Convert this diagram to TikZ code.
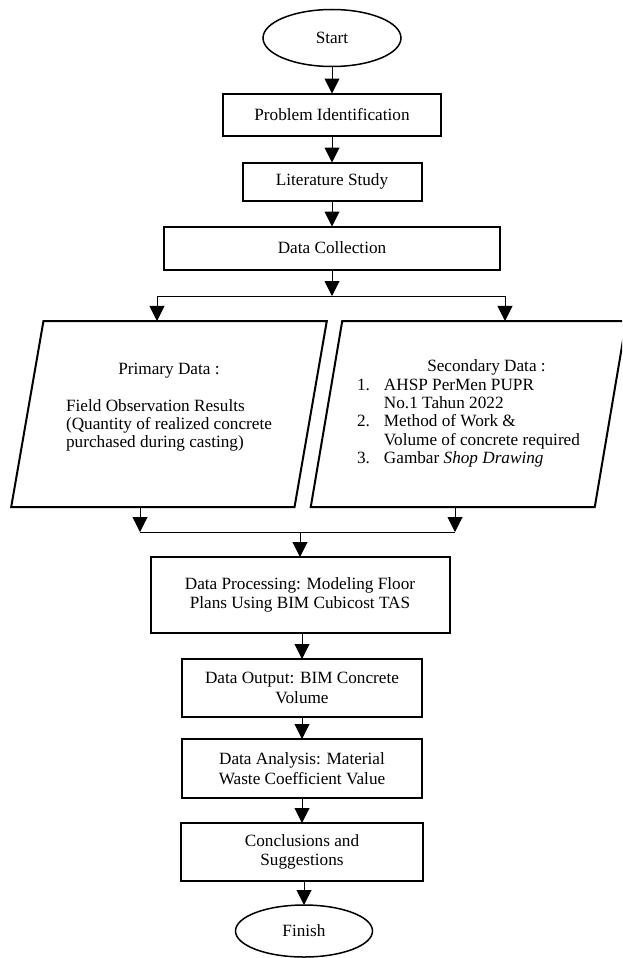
\documentclass[tikz,border=0pt]{standalone}
\usepackage{fontspec}
\setmainfont{Liberation Serif}
\usepackage{tikz}
\usetikzlibrary{arrows.meta,shapes.geometric,positioning}
\tikzstyle{startstop} = [ellipse,draw,line width=1.5pt,inner sep=0pt,outer sep=0pt]
\tikzstyle{process} = [rectangle,draw,line width=2pt,align=center,inner sep=0pt,outer sep=0pt]
\tikzstyle{io} = [trapezium,trapezium left angle=75.8,trapezium right angle=104.2,trapezium stretches=true,draw,line width=2pt,inner sep=0pt,outer sep=0pt,minimum width=316pt,minimum height=186pt,font=\fontsize{17.2pt}{18.3pt}\selectfont]
\tikzstyle{arrow} = [line width=1pt,-{Triangle[length=15pt,width=15pt]}]
\tikzstyle{line} = [line width=1pt]

\begin{document}
\begin{tikzpicture}[node distance=27pt,x=1pt,y=-1pt,font=\fontsize{17.2pt}{19.5pt}\selectfont]
    \path[use as bounding box,clip] (0,0) rectangle (622,958);

    \node (start) [startstop,minimum width=138pt,minimum height=57pt] at (332,38) {Start};
    \node (prob) [process,minimum width=218pt,minimum height=42pt] [below=of start] {Problem Identification};
    \node (lit) [process,minimum width=179pt,minimum height=38pt] [below=of prob] {Literature Study};
    \node (coll) [process,minimum width=336pt,minimum height=43pt] [below=26pt of lit] {Data Collection};

    \node (prim) [io] at (169,414) {\begin{tabular}{@{}l@{}}
        \multicolumn{1}{@{}c@{}}{Primary Data :}\\
        \\
        Field Observation Results\\
        (Quantity of realized concrete\\
        purchased during casting)\\[13pt]
    \end{tabular}};
    \node (sec) [io] at (468.5,414) {\begin{tabular}{@{}l@{\hspace{14pt}}l@{}}
        \multicolumn{2}{@{}c@{}}{\hspace{36pt}Secondary Data :}\\
        1. & AHSP PerMen PUPR\\
           & No.1 Tahun 2022\\
        2. & Method of Work \&\\
           & Volume of concrete required\\
        3. & Gambar \textit{Shop Drawing}
    \end{tabular}};

    \node (proc) [process,minimum width=299pt,minimum height=76pt] at (300,595) {Data Processing: Modeling Floor\\Plans Using BIM Cubicost TAS};
    \node (out) [process,minimum width=240pt,minimum height=58pt] [below=26pt of proc,xshift=2pt] {Data Output: BIM Concrete\\Volume};
    \node (ana) [process,minimum width=240pt,minimum height=59pt] [below=22pt of out] {Data Analysis: Material\\Waste Coefficient Value};
    \node (conc) [process,minimum width=242pt,minimum height=58pt] [below=25pt of ana] {Conclusions and\\Suggestions};
    \node (fin) [startstop,minimum width=137pt,minimum height=52pt] [below=24pt of conc,xshift=2pt] {Finish};

    \coordinate (split) at (332,296);
    \coordinate (splitL) at (157,296);
    \coordinate (splitR) at (505,296);
    \coordinate (mergeL) at (140,532);
    \coordinate (mergeR) at (455,532);

    \path[arrow] (start) edge (prob);
    \path[arrow] (prob) edge (lit);
    \path[arrow] (lit) edge (coll);
    \draw[arrow] (coll.south -| split) -- (split);
    \draw[line] (splitL) -- (splitR);
    \draw[arrow] (splitL) -- (splitL |- prim.north);
    \draw[arrow] (splitR) -- (splitR |- sec.north);

    \draw[arrow] (mergeL |- prim.south) -- (mergeL);
    \draw[arrow] (mergeR |- sec.south) -- (mergeR);
    \draw[line] (mergeL) -- (mergeR);
    \draw[arrow] (mergeL -| proc) -- (proc);

    \draw[arrow] (proc.south -| out) -- (out);
    \path[arrow] (out) edge (ana);
    \path[arrow] (ana) edge (conc);
    \draw[arrow] (conc.south -| fin) -- (fin);
\end{tikzpicture}
\end{document}
